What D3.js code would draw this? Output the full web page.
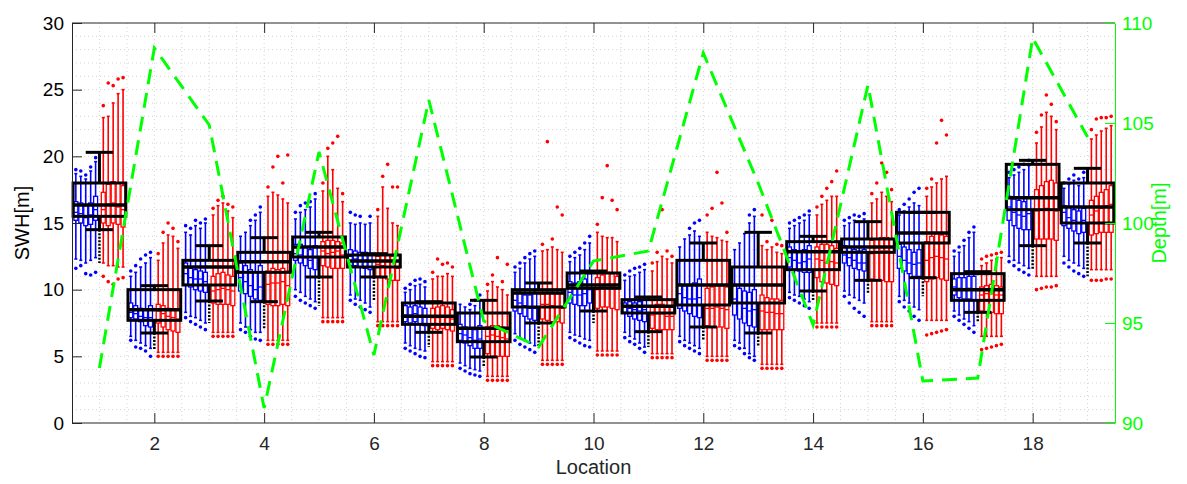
<!DOCTYPE html>
<html>
<head>
<meta charset="utf-8">
<script src="https://cdn.jsdelivr.net/npm/d3@7"></script>
<style>
  body { margin: 0; background: #fff; }
  text { font-family: "Liberation Sans", Arial, Helvetica, sans-serif; }
</style>
</head>
<body>
<svg id="chart"></svg>
<script>
// ---- data ----
var locations = [1,2,3,4,5,6,7,8,9,10,11,12,13,14,15,16,17,18,19];
var xTicks = [2,4,6,8,10,12,14,16,18];
var yTicks = [0,5,10,15,20,25,30];
var depthTicks = [90,95,100,105,110];

// water depth per location (right axis)
var depth = [92.75,108.75,104.9,90.75,103.55,93.4,106.15,95.1,93.8,98.1,98.6,108.5,102,94.9,106.9,92.1,92.25,109.25,104.3];

// black (all data) box per location
var blackQ1  = [15.5,7.7,10.35,11.3,12.45,11.7,7.4,6.1,8.7,10.1,8.25,8.85,9.0,11.5,12.8,13.5,9.2,16.0,15.0];
var blackMed = [16.35,8.5,11.7,12.1,13.2,12.15,8.0,7.1,9.75,10.35,8.75,10.35,10.35,12.85,13.2,14.25,10.0,16.9,16.2];
var blackQ3  = [18.0,10.0,12.2,12.8,13.95,12.6,9.0,8.25,10.0,11.25,9.25,12.2,11.7,13.6,13.8,15.8,11.2,19.4,18.0];
var blackLo  = [14.5,6.75,9.15,9.1,10.95,10.95,6.8,4.95,7.5,8.4,6.85,7.2,6.75,9.9,10.7,10.9,8.3,13.3,13.5];
var blackHi  = [20.3,10.3,13.3,13.9,14.3,12.7,9.1,9.2,10.5,11.4,9.45,13.5,14.3,14.0,15.1,15.8,11.35,19.7,19.1];
var blackOutMin = [12.0,5.5,7.5,7.0,8.8,9.2,5.7,4.2,5.7,7.5,5.7,6.2,5.7,9.2,9.7,9.5,7.6,11.5,11.0];

// small boxes, five per group and location: [lowOutlier, lo, q1, med, q3, hi, highOutlier]
var blueBoxes = [
  [[11.6,12.3,15.2,15.8,16.6,18.7,19.0],[11.8,12.2,15.0,15.7,16.5,18.5,18.9],[11.2,12.0,14.8,15.4,16.3,18.3,18.6],[11.1,12.2,14.9,15.6,16.5,18.9,19.2],[11.3,12.4,15.2,16.0,17.0,19.6,19.9]],
  [[6.2,6.5,7.9,8.3,9.0,11.0,11.4],[5.7,6.2,7.8,8.2,8.8,11.3,11.8],[5.6,6.0,7.6,8.0,8.6,11.7,12.3],[5.4,5.8,7.3,7.9,8.5,12.0,12.6],[5.0,5.6,7.2,7.9,8.8,12.4,12.8]],
  [[7.9,8.3,10.4,11.2,12.0,14.3,14.8],[7.6,8.0,10.2,10.9,11.6,14.1,14.6],[7.4,7.9,10.0,10.8,11.5,14.8,15.2],[7.2,7.7,9.9,10.8,11.4,14.6,15.0],[7.0,7.5,9.8,10.6,11.3,15.0,15.3]],
  [[7.0,7.5,9.9,10.9,12.0,14.0,null],[6.8,7.2,9.7,10.6,11.8,14.3,null],[6.5,7.0,9.5,10.3,11.5,14.8,15.2],[6.3,6.8,9.3,10.0,11.3,15.2,15.6],[6.2,6.8,9.2,10.2,11.8,15.8,16.2]],
  [[9.5,10.0,12.2,12.7,13.4,15.3,15.8],[9.2,9.8,12.0,12.6,13.4,15.8,16.3],[9.0,9.5,11.8,12.4,13.2,16.0,16.5],[8.8,9.3,11.6,12.2,13.0,16.2,16.6],[8.6,9.1,11.5,12.4,13.3,16.8,17.2]],
  [[9.2,9.6,11.8,12.5,13.0,15.0,15.8],[8.9,9.3,11.8,12.3,12.9,14.9,15.6],[8.7,9.2,11.7,12.2,12.8,15.0,15.5],[8.5,9.0,11.6,12.2,12.8,14.9,null],[8.3,8.7,11.5,12.1,12.7,15.0,15.5]],
  [[5.6,6.0,7.6,8.1,8.8,9.8,10.1],[5.4,5.8,7.5,8.1,8.7,10.0,10.4],[5.2,5.6,7.6,8.2,8.8,10.3,10.7],[5.0,5.5,7.4,8.0,8.7,10.4,10.8],[4.9,5.4,7.3,8.0,8.6,10.2,10.6]],
  [[4.1,4.5,6.2,6.7,7.4,8.9,null],[3.9,4.3,6.0,6.6,7.2,8.7,null],[3.7,4.1,5.8,6.4,7.1,8.5,8.9],[3.6,4.0,5.6,6.2,7.0,8.8,9.2],[3.5,3.9,5.6,6.3,7.3,9.2,9.6]],
  [[6.2,6.7,8.4,9.2,10.0,11.3,11.7],[5.9,6.4,8.2,9.0,9.8,11.6,12.0],[5.7,6.2,8.0,8.8,9.6,12.0,12.4],[5.5,6.0,7.8,8.6,9.6,12.3,12.7],[5.3,5.8,7.7,8.6,9.8,12.5,12.9]],
  [[6.4,6.8,9.0,9.8,10.6,12.1,12.5],[6.2,6.6,8.9,9.6,10.5,12.4,12.8],[6.0,6.5,8.8,9.6,10.6,12.6,13.1],[5.8,6.3,8.8,9.7,10.8,13.0,13.5],[5.7,6.2,9.0,10.0,11.2,13.5,14.0]],
  [[6.4,6.8,8.3,8.7,9.0,10.7,11.1],[6.1,6.5,8.0,8.6,9.1,11.0,11.4],[5.9,6.3,7.8,8.5,9.0,11.1,11.6],[5.6,6.0,7.7,8.4,9.1,11.3,11.7],[5.3,5.7,7.6,8.5,9.3,11.5,11.9]],
  [[6.1,6.5,8.6,9.7,10.4,13.2,null],[5.8,6.2,8.4,9.4,10.3,13.8,null],[5.6,6.0,8.2,9.3,10.3,14.1,14.6],[5.4,5.8,8.0,9.3,10.5,14.4,15.0],[5.2,5.6,7.9,9.4,10.8,14.0,15.2]],
  [[5.8,6.2,8.1,9.3,10.3,13.0,null],[5.6,6.0,7.8,9.0,10.1,13.5,null],[5.2,5.6,7.5,8.6,9.9,14.2,null],[4.9,5.2,7.3,8.4,9.8,15.0,15.6],[4.7,5.0,7.2,8.5,10.0,15.5,16.0]],
  [[9.4,9.8,11.7,12.4,13.2,14.6,15.0],[9.2,9.6,11.5,12.2,13.0,14.8,15.2],[9.0,9.5,11.4,12.0,12.9,15.0,15.4],[8.8,9.3,11.3,12.1,13.0,15.2,15.6],[8.6,9.1,11.3,12.3,13.3,15.6,15.9]],
  [[9.5,9.9,12.0,12.6,13.3,14.8,15.2],[9.0,9.6,11.8,12.4,13.2,15.0,15.4],[8.6,9.4,11.6,12.2,13.0,15.2,15.6],[8.3,9.2,11.5,12.0,12.9,15.1,15.5],[8.0,9.0,11.4,12.0,13.0,15.3,15.7]],
  [[9.1,9.5,11.6,12.5,13.4,15.6,16.0],[8.7,9.2,11.4,12.2,13.2,15.9,16.4],[8.4,9.0,11.2,12.0,13.0,16.2,16.8],[8.0,8.7,11.0,11.9,12.8,16.5,17.3],[7.7,8.5,11.0,12.0,13.0,16.3,17.6]],
  [[8.0,8.4,9.6,10.2,10.8,12.5,12.9],[7.7,8.1,9.4,10.1,10.9,12.8,13.2],[7.4,7.8,9.3,10.0,10.9,13.3,13.7],[7.1,7.6,9.3,10.1,11.0,13.9,14.3],[6.8,7.3,9.2,10.0,11.0,14.3,14.7]],
  [[12.1,12.5,15.2,16.2,17.0,18.4,18.8],[11.8,12.2,14.8,15.8,16.8,18.6,19.0],[11.5,12.0,14.6,15.6,16.7,18.8,19.2],[11.3,11.8,14.5,15.5,16.6,19.0,19.4],[11.1,11.6,14.5,15.7,16.9,19.3,19.7]],
  [[12.0,12.5,14.8,15.8,16.3,17.6,18.0],[11.7,12.2,14.6,15.4,16.2,17.9,18.3],[11.4,12.0,14.4,15.2,16.0,18.2,18.6],[11.2,11.8,14.2,15.0,15.9,17.8,18.3],[11.0,11.6,14.3,15.2,16.1,18.4,18.8]]
];

var redBoxes = [
  [[11.0,12.0,15.0,16.0,17.3,22.9,23.8],[10.6,11.8,14.8,16.4,17.9,23.0,25.5],[10.4,11.8,15.0,16.5,18.1,24.0,25.3],[10.8,11.7,14.9,16.2,18.0,24.7,25.8],[10.9,11.7,14.7,16.0,17.8,25.0,25.9]],
  [[5.0,5.3,7.5,8.4,8.9,12.2,12.7],[5.0,5.3,7.2,8.2,8.8,13.5,14.3],[5.0,5.3,7.0,8.0,8.6,14.1,15.0],[5.0,5.3,6.9,7.9,8.5,14.0,14.6],[5.0,5.3,6.8,7.8,8.5,13.1,13.6]],
  [[6.5,6.8,9.0,9.9,11.0,15.6,16.1],[6.5,6.8,8.9,10.0,11.2,16.3,16.7],[6.5,6.8,8.9,10.1,11.3,16.5,17.0],[6.5,6.8,8.9,10.0,11.1,15.9,16.4],[6.5,6.8,8.8,9.9,11.0,15.4,16.2]],
  [[5.9,6.2,8.9,10.4,11.4,17.0,17.7],[5.9,6.2,8.8,10.5,11.6,17.3,19.2],[5.9,6.2,8.8,10.5,11.5,17.1,20.0],[5.9,6.2,8.9,10.6,11.6,16.8,18.0],[5.9,6.2,8.8,10.3,11.4,16.5,20.1]],
  [[7.6,7.9,11.8,12.9,13.6,17.4,18.0],[7.6,7.9,11.7,12.7,13.7,20.0,20.6],[7.6,7.9,11.6,12.8,13.7,19.0,21.0],[7.6,7.9,11.6,12.9,13.6,17.6,21.5],[7.6,7.9,11.6,12.6,13.5,16.6,17.2]],
  [[7.3,7.6,11.0,11.9,12.5,15.5,16.0],[7.3,7.6,10.9,11.8,12.6,17.7,18.5],[7.3,7.6,10.8,11.7,12.6,16.1,19.4],[7.3,7.6,10.7,11.7,12.5,15.0,17.7],[7.3,7.6,10.7,11.6,12.6,14.8,17.7]],
  [[4.3,4.6,7.1,7.9,8.6,10.8,11.3],[4.3,4.6,7.0,7.9,8.7,11.0,12.3],[4.3,4.6,7.1,8.0,8.8,11.0,11.9],[4.3,4.6,7.0,7.9,8.7,11.2,12.0],[4.3,4.6,6.9,7.8,8.5,11.0,11.7]],
  [[3.2,3.5,5.2,6.5,7.2,9.9,10.4],[3.2,3.5,5.0,6.6,7.3,10.6,11.1],[3.2,3.5,5.0,6.5,7.3,10.2,12.4],[3.2,3.5,5.0,6.4,7.2,10.0,10.6],[3.2,3.5,5.0,6.3,7.0,9.6,11.9]],
  [[4.4,4.7,7.8,8.9,9.7,12.9,13.4],[4.4,4.7,7.7,8.9,9.8,13.0,21.1],[4.4,4.7,7.6,8.8,9.8,13.2,13.8],[4.4,4.7,7.6,8.7,9.7,13.0,16.2],[4.4,4.7,7.5,8.6,9.7,12.8,15.6]],
  [[5.1,5.4,8.6,10.0,10.9,14.3,14.9],[5.1,5.4,8.7,10.2,11.1,14.0,16.9],[5.1,5.4,8.7,10.3,11.3,13.9,19.3],[5.1,5.4,8.6,10.2,11.2,13.9,16.7],[5.1,5.4,8.5,10.1,11.0,13.6,16.0]],
  [[4.9,5.2,7.1,8.1,8.8,11.4,12.0],[4.9,5.2,7.0,8.2,8.9,12.1,12.8],[4.9,5.2,7.0,8.2,8.9,12.5,16.0],[4.9,5.2,7.0,8.0,8.8,12.3,12.9],[4.9,5.2,7.0,8.0,8.7,12.0,12.5]],
  [[4.7,5.0,7.3,8.6,10.1,14.3,15.6],[4.7,5.0,7.2,8.6,10.2,14.0,16.1],[4.7,5.0,7.2,8.7,10.3,13.9,18.8],[4.7,5.0,7.2,8.6,10.3,13.7,16.5],[4.7,5.0,7.1,8.5,10.2,13.6,14.3]],
  [[4.1,4.4,7.0,8.4,9.6,13.3,15.6],[4.1,4.4,7.0,8.3,9.4,13.0,13.6],[4.1,4.4,7.0,8.3,9.3,13.2,15.2],[4.1,4.4,7.0,8.2,9.3,12.8,13.4],[4.1,4.4,7.0,8.2,9.2,12.7,13.3]],
  [[7.2,7.5,10.9,12.3,13.2,15.6,16.2],[7.2,7.5,10.6,12.2,13.4,16.4,17.0],[7.2,7.5,10.5,12.0,13.4,16.7,17.6],[7.2,7.5,10.4,12.1,13.3,17.0,18.1],[7.2,7.5,10.3,12.0,13.1,17.0,18.9]],
  [[7.3,7.6,10.8,12.7,13.7,16.5,17.2],[7.3,7.6,10.7,12.8,13.8,16.8,18.0],[7.3,7.6,10.7,12.9,13.9,17.3,19.5],[7.3,7.6,10.6,12.9,13.9,17.0,18.8],[7.3,7.6,10.6,12.8,13.8,16.6,17.5]],
  [[6.6,7.7,10.6,12.2,13.6,17.0,17.6],[6.7,7.7,10.8,12.4,14.0,17.7,18.3],[6.8,7.7,10.9,12.5,14.2,18.0,21.0],[6.9,7.7,10.8,12.4,14.1,18.3,22.7],[7.0,7.7,10.7,12.3,14.0,18.5,21.6]],
  [[5.5,6.5,8.4,9.6,10.2,11.8,12.3],[5.6,6.5,8.3,9.7,10.3,12.0,12.5],[5.7,6.5,8.3,9.7,10.4,12.2,12.6],[5.8,6.5,8.2,9.6,10.3,12.3,12.7],[5.9,6.5,8.2,9.6,10.2,12.4,12.8]],
  [[10.0,11.0,13.8,15.9,17.5,21.0,21.8],[10.1,11.0,13.8,16.0,17.8,22.2,23.1],[10.2,11.0,13.8,16.1,18.1,23.3,24.6],[10.2,11.0,13.8,16.0,18.2,23.0,23.9],[10.3,11.0,13.7,15.9,18.0,22.0,22.6]],
  [[10.7,11.5,14.1,15.6,16.7,21.3,22.0],[10.7,11.5,14.2,15.9,17.0,21.6,22.8],[10.7,11.5,14.3,16.1,17.3,21.9,22.9],[10.8,11.5,14.3,16.3,17.5,22.1,22.9],[10.8,11.5,14.3,16.4,17.8,22.3,23.0]]
];

// offsets of the five small boxes from the location centre
var blueOffsets = [-0.43,-0.34,-0.25,-0.16,-0.07];
var redOffsets = [0.07,0.16,0.25,0.34,0.43];

// ---- layout ----
var W = 1187, H = 484;
var plotL = 72, plotR = 1115, plotT = 23, plotB = 423;

var svg = d3.select("#chart").attr("width", W).attr("height", H);

var x = d3.scaleLinear().domain([0.5, 19.5]).range([plotL, plotR]);
var y = d3.scaleLinear().domain([0, 30]).range([plotB, plotT]);
var yR = d3.scaleLinear().domain([90, 110]).range([plotB, plotT]);

var green = "#00ff00";

// grid (dotted, major + minor)
var grid = svg.append("g").attr("class", "grid");
grid.selectAll(".gx")
  .data(d3.range(1, 19.01, 0.5))
  .enter().append("line")
    .attr("x1", function(d) { return x(d); })
    .attr("x2", function(d) { return x(d); })
    .attr("y1", plotT).attr("y2", plotB)
    .attr("stroke", "#d4d4d4").attr("stroke-width", 1)
    .attr("stroke-dasharray", "1,3");
grid.selectAll(".gy")
  .data(d3.range(1, 30, 1))
  .enter().append("line")
    .attr("x1", plotL).attr("x2", plotR)
    .attr("y1", function(d) { return y(d); })
    .attr("y2", function(d) { return y(d); })
    .attr("stroke", "#d4d4d4").attr("stroke-width", 1)
    .attr("stroke-dasharray", "1,3");

var plot = svg.append("g");

// small boxes
function drawGroup(boxes, offsets, color) {
  locations.forEach(function(loc, i) {
    boxes[i].forEach(function(b, k) {
      var cx = x(loc + offsets[k]);
      var hw = (x(0.036) - x(0));
      var g = plot.append("g");
      g.append("line").attr("x1", cx).attr("x2", cx)
        .attr("y1", y(b[5])).attr("y2", y(b[4]))
        .attr("stroke", color).attr("stroke-width", 1.6);
      g.append("line").attr("x1", cx).attr("x2", cx)
        .attr("y1", y(b[2])).attr("y2", y(b[1]))
        .attr("stroke", color).attr("stroke-width", 1.6);
      [b[1], b[5]].forEach(function(v) {
        g.append("line").attr("x1", cx - 1.5).attr("x2", cx + 1.5)
          .attr("y1", y(v)).attr("y2", y(v))
          .attr("stroke", color).attr("stroke-width", 1.6);
      });
      g.append("rect")
        .attr("x", cx - hw).attr("width", 2 * hw)
        .attr("y", y(b[4])).attr("height", y(b[2]) - y(b[4]))
        .attr("fill", "none").attr("stroke", color).attr("stroke-width", 1.3);
      g.append("line").attr("x1", cx - hw).attr("x2", cx + hw)
        .attr("y1", y(b[3])).attr("y2", y(b[3]))
        .attr("stroke", color).attr("stroke-width", 1.3);
      [b[0], b[6]].forEach(function(v) {
        if (v === null) return;
        g.append("circle").attr("cx", cx).attr("cy", y(v)).attr("r", 1.8)
          .attr("fill", color);
      });
    });
  });
}
drawGroup(blueBoxes, blueOffsets, "#0000ff");
drawGroup(redBoxes, redOffsets, "#ff0000");

// black boxes
var black = svg.append("g");
locations.forEach(function(loc, i) {
  var cx = x(loc), hw = x(0.48) - x(0), cw = x(0.25) - x(0);
  // packed black outliers below the lower whisker
  black.append("line").attr("x1", cx).attr("x2", cx)
    .attr("y1", y(blackLo[i])).attr("y2", y(blackOutMin[i]))
    .attr("stroke", "#000").attr("stroke-width", 2.5)
    .attr("stroke-dasharray", "2,1.5");
  black.append("line").attr("x1", cx).attr("x2", cx)
    .attr("y1", y(blackHi[i])).attr("y2", y(blackQ3[i]))
    .attr("stroke", "#000").attr("stroke-width", 3);
  black.append("line").attr("x1", cx).attr("x2", cx)
    .attr("y1", y(blackQ1[i])).attr("y2", y(blackLo[i]))
    .attr("stroke", "#000").attr("stroke-width", 3);
  [blackLo[i], blackHi[i]].forEach(function(v) {
    black.append("line").attr("x1", cx - cw).attr("x2", cx + cw)
      .attr("y1", y(v)).attr("y2", y(v))
      .attr("stroke", "#000").attr("stroke-width", 3);
  });
  black.append("rect")
    .attr("x", cx - hw).attr("width", 2 * hw)
    .attr("y", y(blackQ3[i])).attr("height", y(blackQ1[i]) - y(blackQ3[i]))
    .attr("fill", "none").attr("stroke", "#000").attr("stroke-width", 3);
  black.append("line").attr("x1", cx - hw).attr("x2", cx + hw)
    .attr("y1", y(blackMed[i])).attr("y2", y(blackMed[i]))
    .attr("stroke", "#000").attr("stroke-width", 3.5);
});

// depth line on right axis
svg.append("path")
  .datum(locations)
  .attr("fill", "none")
  .attr("stroke", green)
  .attr("stroke-width", 3)
  .attr("stroke-dasharray", "15,9")
  .attr("d", d3.line()
    .x(function(d) { return x(d); })
    .y(function(d, i) { return yR(depth[i]); }));

// frame
svg.append("line").attr("x1", plotL).attr("x2", plotR).attr("y1", plotT).attr("y2", plotT)
  .attr("stroke", "#262626").attr("stroke-width", 1);
svg.append("line").attr("x1", plotL).attr("x2", plotR).attr("y1", plotB).attr("y2", plotB)
  .attr("stroke", "#262626").attr("stroke-width", 1);

// x axis (bottom and top ticks inside)
var xAxis = svg.append("g")
  .attr("transform", "translate(0," + plotB + ")")
  .call(d3.axisBottom(x).tickValues(xTicks).tickSizeInner(-10).tickSizeOuter(0).tickPadding(14));
xAxis.select(".domain").remove();
xAxis.selectAll("line").attr("stroke", "#262626");
xAxis.selectAll("text").attr("font-size", 19).attr("fill", "#262626");

var xTop = svg.append("g")
  .attr("transform", "translate(0," + plotT + ")")
  .call(d3.axisTop(x).tickValues(xTicks).tickSizeInner(-10).tickSizeOuter(0).tickFormat(""));
xTop.select(".domain").remove();
xTop.selectAll("line").attr("stroke", "#262626");

// left y axis
var yAxis = svg.append("g")
  .attr("transform", "translate(" + plotL + ",0)")
  .call(d3.axisLeft(y).tickValues(yTicks).tickSizeInner(-10).tickSizeOuter(0).tickPadding(8));
yAxis.select(".domain").attr("stroke", "#262626");
yAxis.selectAll("line").attr("stroke", "#262626");
yAxis.selectAll("text").attr("font-size", 19).attr("fill", "#000");

// right y axis (depth)
var yAxisR = svg.append("g")
  .attr("transform", "translate(" + plotR + ",0)")
  .call(d3.axisRight(yR).tickValues(depthTicks).tickSizeInner(-10).tickSizeOuter(0).tickPadding(7));
yAxisR.select(".domain").attr("stroke", green);
yAxisR.selectAll("line").attr("stroke", green);
yAxisR.selectAll("text").attr("font-size", 19).attr("fill", green);

// axis labels
svg.append("text")
  .attr("x", (plotL + plotR) / 2).attr("y", 474)
  .attr("text-anchor", "middle").attr("font-size", 20).attr("fill", "#262626")
  .text("Location");
svg.append("text")
  .attr("transform", "translate(29," + (plotT + plotB) / 2 + ") rotate(-90)")
  .attr("text-anchor", "middle").attr("font-size", 20).attr("fill", "#000")
  .text("SWH[m]");
svg.append("text")
  .attr("transform", "translate(1166," + (plotT + plotB) / 2 + ") rotate(-90)")
  .attr("text-anchor", "middle").attr("font-size", 20).attr("fill", green)
  .text("Depth[m]");
</script>
</body>
</html>
